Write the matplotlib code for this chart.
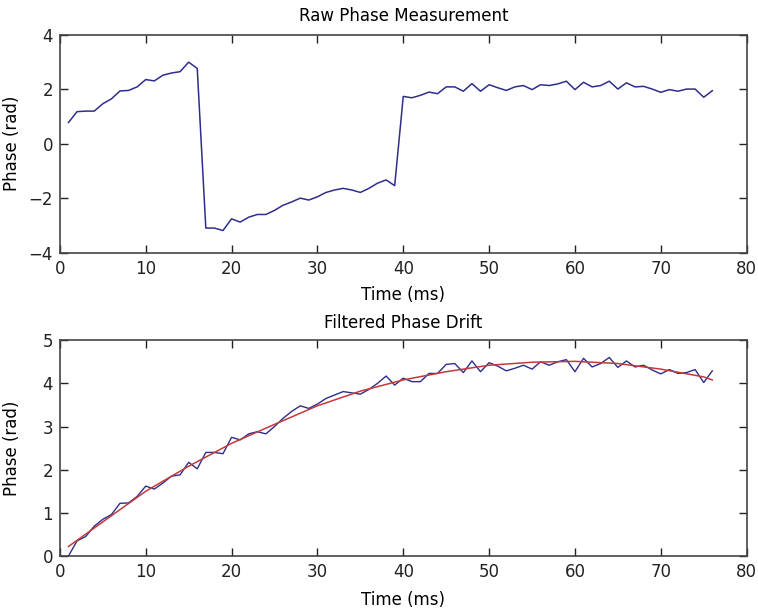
import matplotlib
matplotlib.use('Agg')
import matplotlib.pyplot as plt

# time axis (ms)
t = list(range(1, 77))

# raw phase (rad)
raw_phase = [0.78, 1.18, 1.20, 1.20, 1.47, 1.65, 1.94, 1.96, 2.09, 2.36,
             2.31, 2.52, 2.60, 2.65, 3.00, 2.77, -3.10, -3.10, -3.19, -2.76,
             -2.88, -2.70, -2.60, -2.60, -2.45, -2.26, -2.14, -2.00, -2.07, -1.95,
             -1.79, -1.70, -1.64, -1.70, -1.79, -1.64, -1.45, -1.33, -1.54, 1.74,
             1.69, 1.78, 1.90, 1.84, 2.09, 2.09, 1.93, 2.21, 1.93, 2.17,
             2.06, 1.96, 2.09, 2.14, 1.99, 2.17, 2.14, 2.20, 2.30, 1.99,
             2.26, 2.09, 2.14, 2.30, 2.01, 2.24, 2.09, 2.11, 2.01, 1.89,
             1.99, 1.93, 2.01, 2.01, 1.71, 1.95]

# unwrapped phase (rad), bottom panel blue
unwrapped = [0.00, 0.35, 0.45, 0.69, 0.85, 0.96, 1.22, 1.23, 1.38, 1.62,
             1.55, 1.69, 1.85, 1.88, 2.17, 2.02, 2.40, 2.40, 2.37, 2.75,
             2.69, 2.83, 2.88, 2.83, 3.00, 3.19, 3.35, 3.48, 3.42, 3.52,
             3.65, 3.73, 3.81, 3.78, 3.75, 3.86, 4.00, 4.17, 3.96, 4.12,
             4.04, 4.04, 4.23, 4.23, 4.44, 4.46, 4.25, 4.52, 4.27, 4.48,
             4.40, 4.29, 4.35, 4.42, 4.33, 4.50, 4.42, 4.50, 4.55, 4.27,
             4.58, 4.38, 4.46, 4.60, 4.37, 4.52, 4.38, 4.42, 4.31, 4.22,
             4.32, 4.23, 4.25, 4.32, 4.02, 4.29]

# filtered drift (rad), bottom panel red
t_fit = [1, 5, 10, 15, 20, 25, 30, 35, 40, 45, 50, 55, 60, 65, 70, 75, 76]
drift_fit = [0.22, 0.79, 1.50, 2.08, 2.61, 3.05, 3.48, 3.82, 4.08, 4.27,
             4.42, 4.49, 4.51, 4.46, 4.33, 4.15, 4.08]

plt.rcParams['font.family'] = ['DejaVu Sans']
plt.rcParams['font.size'] = 12

fig = plt.figure(figsize=(7.58, 6.13), dpi=100)
ax1 = fig.add_axes([0.079, 0.588, 0.906, 0.355])
ax2 = fig.add_axes([0.079, 0.093, 0.906, 0.352])

blue = '#2e2e8c'
red = '#c23a3a'

ax1.plot(t, raw_phase, color=blue, lw=1.1)
ax1.set_xlim(0, 80)
ax1.set_ylim(-4, 4)
ax1.set_yticks([-4, -2, 0, 2, 4])
ax1.set_title('Raw Phase Measurement', fontsize=12, pad=10)
ax1.set_xlabel('Time (ms)', labelpad=6)
ax1.set_ylabel('Phase (rad)')

ax2.plot(t, unwrapped, color=blue, lw=1.0)
ax2.plot(t_fit, drift_fit, color=red, lw=1.1)
ax2.set_xlim(0, 80)
ax2.set_ylim(0, 5)
ax2.set_title('Filtered Phase Drift', fontsize=12, pad=9)
ax2.set_xlabel('Time (ms)', labelpad=7)
ax2.set_ylabel('Phase (rad)')

for ax in (ax1, ax2):
    ax.set_xticks(range(0, 81, 10))
    ax.yaxis.set_label_coords(-0.056, 0.5)
    ax.tick_params(direction='in', length=6, width=1, top=True, right=True,
                   colors='#222222', pad=5)
    for s in ax.spines.values():
        s.set_color('#444444')
        s.set_linewidth(1.2)

fig.savefig('out.png', dpi=100)
